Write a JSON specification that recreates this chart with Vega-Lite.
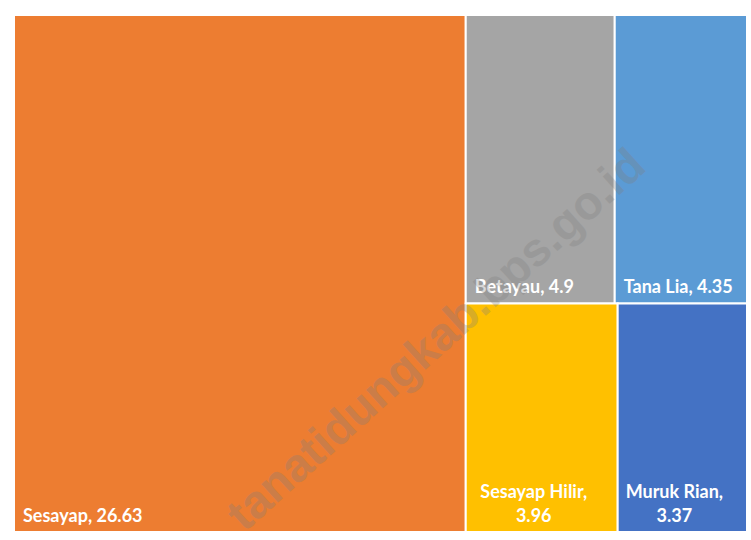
{
  "$schema": "https://vega.github.io/schema/vega-lite/v6.json",
  "width": 733,
  "height": 517,
  "autosize": "none",
  "padding": {"left": 14, "top": 15, "right": 4, "bottom": 8},
  "background": "white",
  "config": {"view": {"stroke": null}},
  "layer": [
    {
      "data": {"values": [
        {"name": "Sesayap", "value": 26.63, "block": "A", "order": 1},
        {"name": "Betayau", "value": 4.9, "block": "B", "order": 1},
        {"name": "Tana Lia", "value": 4.35, "block": "B", "order": 2},
        {"name": "Sesayap Hilir", "value": 3.96, "block": "C", "order": 1},
        {"name": "Muruk Rian", "value": 3.37, "block": "C", "order": 2}
      ]},
      "transform": [
        {"calculate": "datum.block === 'A' ? datum.value : 0", "as": "aval"},
        {"calculate": "datum.block === 'B' ? datum.value : 0", "as": "bval"},
        {"joinaggregate": [
          {"op": "sum", "field": "value", "as": "total"},
          {"op": "sum", "field": "aval", "as": "asum"},
          {"op": "sum", "field": "bval", "as": "bsum"}
        ]},
        {"joinaggregate": [{"op": "sum", "field": "value", "as": "gsum"}], "groupby": ["block"]},
        {"window": [{"op": "sum", "field": "value", "as": "cum"}], "sort": [{"field": "order"}], "groupby": ["block"], "frame": [null, 0]},
        {"calculate": "datum.asum / datum.total", "as": "split"},
        {"calculate": "1 - datum.bsum / (datum.total - datum.asum)", "as": "mid"},
        {"calculate": "datum.block === 'A' ? 0 : datum.split + (1 - datum.split) * (datum.cum - datum.value) / datum.gsum", "as": "x0"},
        {"calculate": "datum.block === 'A' ? datum.split : datum.split + (1 - datum.split) * datum.cum / datum.gsum", "as": "x1"},
        {"calculate": "datum.block === 'B' ? datum.mid : 0", "as": "y0"},
        {"calculate": "datum.block === 'C' ? datum.mid : 1", "as": "y1"},
        {"calculate": "(datum.x0 + datum.x1) / 2", "as": "xc"},
        {"calculate": "datum.block === 'C' ? [datum.name + ',', '' + datum.value] : datum.name + ', ' + datum.value", "as": "label"}
      ],
      "layer": [
        {
          "mark": {"type": "rect", "stroke": "white", "strokeWidth": 2},
          "encoding": {
            "x": {"field": "x0", "type": "quantitative", "scale": {"domain": [0, 1], "nice": false, "zero": false}, "axis": null},
            "x2": {"field": "x1"},
            "y": {"field": "y0", "type": "quantitative", "scale": {"domain": [0, 1], "nice": false, "zero": false}, "axis": null},
            "y2": {"field": "y1"},
            "color": {"field": "name", "type": "nominal", "legend": null,
              "scale": {"domain": ["Sesayap", "Betayau", "Tana Lia", "Sesayap Hilir", "Muruk Rian"],
                        "range": ["#ED7D31", "#A5A5A5", "#5B9BD5", "#FFC000", "#4472C4"]}}
          }
        },
        {
          "transform": [{"filter": "datum.block !== 'C'"}],
          "mark": {"type": "text", "align": "left", "baseline": "alphabetic", "dx": 9, "dy": -10, "font": "Lato", "fontWeight": "bold", "fontSize": 18, "fill": "white"},
          "encoding": {
            "x": {"field": "x0", "type": "quantitative"},
            "y": {"field": "y0", "type": "quantitative"},
            "text": {"field": "label"}
          }
        },
        {
          "transform": [{"filter": "datum.block === 'C'"}],
          "mark": {"type": "text", "align": "center", "baseline": "alphabetic", "dx": -8, "dy": -34, "lineHeight": 24, "font": "Lato", "fontWeight": "bold", "fontSize": 18, "fill": "white"},
          "encoding": {
            "x": {"field": "xc", "type": "quantitative"},
            "y": {"field": "y0", "type": "quantitative"},
            "text": {"field": "label"}
          }
        }
      ]
    },
    {
      "data": {"values": [{"mark": "tanatidungkab.bps.go.id"}]},
      "mark": {"type": "text", "align": "center", "baseline": "middle", "angle": 318, "font": "Liberation Sans", "fontWeight": "bold", "fontSize": 47, "fill": "#7f7f7f", "opacity": 0.3},
      "encoding": {
        "x": {"datum": 0.577, "type": "quantitative"},
        "y": {"datum": 0.37, "type": "quantitative"},
        "text": {"field": "mark"}
      }
    }
  ]
}
